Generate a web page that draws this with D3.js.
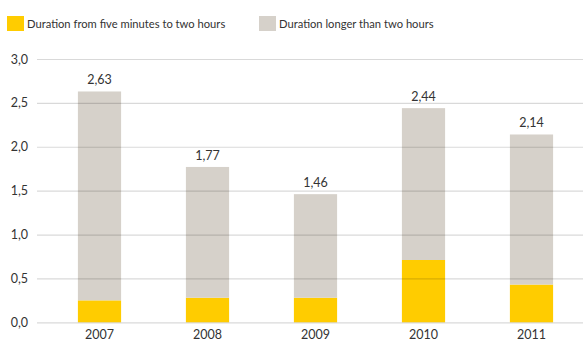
<!DOCTYPE html>
<html>
<head>
<meta charset="utf-8">
<script src="https://cdn.jsdelivr.net/npm/d3@7"></script>
<style>
  html, body { margin: 0; padding: 0; background: #fff; }
  svg { display: block; font-family: Lato, "Open Sans", sans-serif; }
</style>
</head>
<body>
<svg id="chart" width="583" height="343"></svg>
<script>
// Average outage duration per year, split by length of interruption
const years = ["2007", "2008", "2009", "2010", "2011"];
const shortOutages = [0.25, 0.28, 0.28, 0.71, 0.43];   // five minutes to two hours
const totals = [2.63, 1.77, 1.46, 2.44, 2.14];          // stacked total
const longOutages = totals.map((t, i) => +(t - shortOutages[i]).toFixed(2));
const yTicks = [0, 0.5, 1.0, 1.5, 2.0, 2.5, 3.0];
const seriesNames = ["Duration from five minutes to two hours", "Duration longer than two hours"];
const colors = ["#ffcc00", "#d6d1ca"];

const fmt = v => d3.format(".1f")(v).replace(".", ",");
const fmt2 = v => d3.format(".2f")(v).replace(".", ",");

const svg = d3.select("#chart");

const x = d3.scaleBand()
  .domain(years)
  .range([45.5, 585.5])
  .paddingInner(0.6)
  .paddingOuter(0.3);

const y = d3.scaleLinear()
  .domain([0, 3])
  .range([322.3, 59]);

// Stacked bars
const rows = years.map((yr, i) => ({ year: yr, short: shortOutages[i], long: longOutages[i] }));
const stack = d3.stack().keys(["short", "long"])(rows);

svg.append("g")
  .selectAll("g")
  .data(stack)
  .join("g")
  .attr("fill", (d, i) => colors[i])
  .selectAll("rect")
  .data(d => d)
  .join("rect")
  .attr("x", d => x(d.data.year))
  .attr("width", x.bandwidth())
  .attr("y", d => y(d[1]))
  .attr("height", d => y(d[0]) - y(d[1]));

// Gridlines and value axis labels (gridlines sit over the bars)
const yAxis = d3.axisLeft(y)
  .tickValues(yTicks)
  .tickFormat(fmt)
  .tickSize(-(583 - 37))
  .tickPadding(9);

const gy = svg.append("g")
  .attr("transform", "translate(37,0)")
  .call(yAxis);
gy.select(".domain").remove();
gy.selectAll(".tick line")
  .attr("stroke", "rgba(0,0,0,0.15)")
  .attr("stroke-width", 1.2);
gy.selectAll(".tick text")
  .attr("fill", "#333")
  .attr("font-size", 12.5)
  .attr("font-family", "Lato, 'Open Sans', sans-serif");

// Category axis
const xAxis = d3.axisBottom(x).tickSize(0).tickPadding(8);
const gx = svg.append("g")
  .attr("transform", `translate(0,${y(0)})`)
  .call(xAxis);
gx.select(".domain").remove();
gx.selectAll(".tick text")
  .attr("fill", "#333")
  .attr("font-size", 12.5)
  .attr("font-family", "Lato, 'Open Sans', sans-serif");

// Total labels above each bar
svg.append("g")
  .selectAll("text")
  .data(rows)
  .join("text")
  .attr("x", d => x(d.year) + x.bandwidth() / 2)
  .attr("y", d => y(d.short + d.long) - 7)
  .attr("text-anchor", "middle")
  .attr("fill", "#333")
  .attr("font-size", 12.5)
  .text((d, i) => fmt2(totals[i]));

// Legend
const legendX = [7, 259];
const legend = svg.append("g")
  .selectAll("g")
  .data(seriesNames)
  .join("g")
  .attr("transform", (d, i) => `translate(${legendX[i]},16)`);
legend.append("rect")
  .attr("width", 17)
  .attr("height", 15)
  .attr("fill", (d, i) => colors[i]);
legend.append("text")
  .attr("x", 20)
  .attr("y", 11.5)
  .attr("fill", "#333")
  .attr("font-size", 11.2)
  .text(d => d);
</script>
</body>
</html>
